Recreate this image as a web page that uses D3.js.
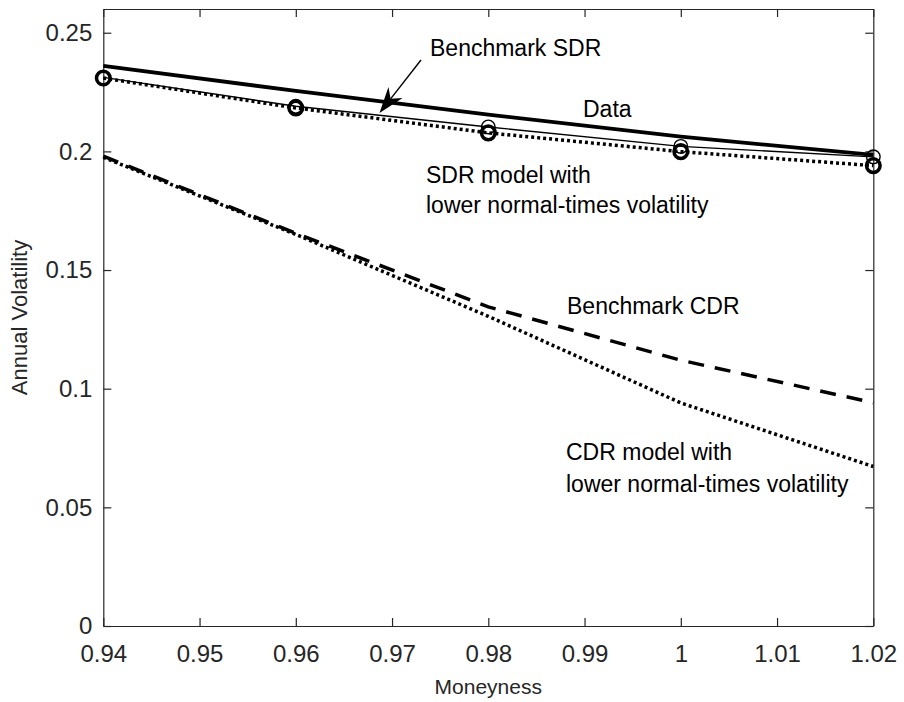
<!DOCTYPE html>
<html>
<head>
<meta charset="utf-8">
<script src="https://cdn.jsdelivr.net/npm/d3@7"></script>
<style>
  html, body { margin: 0; padding: 0; background: #fff; }
  svg { display: block; font-family: "Liberation Sans", Arial, Helvetica, sans-serif; }
</style>
</head>
<body>
<svg id="chart" width="904" height="702"></svg>
<script>
// ---- data ----
const moneyness = [0.94, 0.96, 0.98, 1.00, 1.02];
const dataVol = [0.2312, 0.2190, 0.2103, 0.2021, 0.1977];
const sdrLowVol = [0.2309, 0.2183, 0.2078, 0.1999, 0.1940];
const sdrBenchVol = [0.2360, 0.2255, 0.2155, 0.2062, 0.1985];
const cdrBenchVol = [0.1980, 0.1655, 0.1345, 0.1120, 0.0941];
const cdrLowVol = [0.1975, 0.1650, 0.1305, 0.0940, 0.0672];

const xTicks = [0.94, 0.95, 0.96, 0.97, 0.98, 0.99, 1.00, 1.01, 1.02];
const xTickLabels = ["0.94", "0.95", "0.96", "0.97", "0.98", "0.99", "1", "1.01", "1.02"];
const yTicks = [0, 0.05, 0.10, 0.15, 0.20, 0.25];
const yTickLabels = ["0", "0.05", "0.1", "0.15", "0.2", "0.25"];

const xLabel = "Moneyness";
const yLabel = "Annual Volatility";

(function () {
// ---- layout ----
const svg = d3.select("#chart");
const pLeft = 103.3, pRight = 873.3, pTop = 9, pBottom = 626;
const x = d3.scaleLinear().domain([0.94, 1.02]).range([pLeft, pRight]);
const y = d3.scaleLinear().domain([0, 0.26]).range([pBottom, pTop]);
const axisColor = "#262626";
const tickLen = 8;

const toPts = vals => moneyness.map((m, i) => [m, vals[i]]);
const line = d3.line().x(d => x(d[0])).y(d => y(d[1]));

// axes (box, ticks inward)
const xAxisB = d3.axisBottom(x).tickValues(xTicks).tickSizeInner(-tickLen).tickSizeOuter(0)
  .tickPadding(19).tickFormat((d, i) => xTickLabels[i]);
const xAxisT = d3.axisTop(x).tickValues(xTicks).tickSizeInner(-tickLen).tickSizeOuter(0).tickFormat("");
const yAxisL = d3.axisLeft(y).tickValues(yTicks).tickSizeInner(-tickLen).tickSizeOuter(0)
  .tickPadding(11).tickFormat((d, i) => yTickLabels[i]);
const yAxisR = d3.axisRight(y).tickValues(yTicks).tickSizeInner(-tickLen).tickSizeOuter(0).tickFormat("");

function styleAxis(g) {
  g.selectAll("path.domain").attr("stroke", axisColor).attr("stroke-width", 1.2);
  g.selectAll(".tick line").attr("stroke", axisColor).attr("stroke-width", 1.2);
  g.selectAll(".tick text").attr("fill", axisColor).style("font-size", "24px")
    .style("font-family", "'Liberation Sans', Arial, Helvetica, sans-serif");
}
svg.append("g").attr("transform", `translate(0,${pBottom})`).call(xAxisB).call(styleAxis);
svg.append("g").attr("transform", `translate(0,${pTop})`).call(xAxisT).call(styleAxis);
svg.append("g").attr("transform", `translate(${pLeft},0)`).call(yAxisL).call(styleAxis);
svg.append("g").attr("transform", `translate(${pRight},0)`).call(yAxisR).call(styleAxis);

// axis titles
svg.append("text").attr("x", (pLeft + pRight) / 2).attr("y", 694)
  .attr("text-anchor", "middle").attr("fill", axisColor).style("font-size", "21px").text(xLabel);
svg.append("text").attr("transform", `translate(27,${(pTop + pBottom) / 2}) rotate(-90)`)
  .attr("text-anchor", "middle").attr("fill", axisColor).style("font-size", "22px").text(yLabel);

// ---- series ----
const plot = svg.append("g");
plot.append("path").datum(toPts(cdrBenchVol)).attr("d", line)
  .attr("fill", "none").attr("stroke", "#000").attr("stroke-width", 3.5)
  .attr("stroke-dasharray", "16,11");
plot.append("path").datum(toPts(cdrLowVol)).attr("d", line)
  .attr("fill", "none").attr("stroke", "#000").attr("stroke-width", 3.5)
  .attr("stroke-dasharray", "3,3");
plot.append("path").datum(toPts(sdrLowVol)).attr("d", line)
  .attr("fill", "none").attr("stroke", "#000").attr("stroke-width", 3.5)
  .attr("stroke-dasharray", "3,3");
plot.append("path").datum(toPts(dataVol)).attr("d", line)
  .attr("fill", "none").attr("stroke", "#000").attr("stroke-width", 1.4);
plot.append("path").datum(toPts(sdrBenchVol)).attr("d", line)
  .attr("fill", "none").attr("stroke", "#000").attr("stroke-width", 3.8);

plot.selectAll("circle.data").data(toPts(dataVol)).enter().append("circle")
  .attr("class", "data").attr("cx", d => x(d[0])).attr("cy", d => y(d[1])).attr("r", 6.8)
  .attr("fill", "none").attr("stroke", "#000").attr("stroke-width", 1.4);
plot.selectAll("circle.sdrlow").data(toPts(sdrLowVol)).enter().append("circle")
  .attr("class", "sdrlow").attr("cx", d => x(d[0])).attr("cy", d => y(d[1])).attr("r", 6.8)
  .attr("fill", "none").attr("stroke", "#000").attr("stroke-width", 3.5);

// ---- annotations ----
const annFont = "23px";
const ann = [
  { t: "Benchmark SDR", x: 430, y: 56 },
  { t: "Data", x: 583, y: 117 },
  { t: "SDR model with", x: 426, y: 183 },
  { t: "lower normal-times volatility", x: 426, y: 213 },
  { t: "Benchmark CDR", x: 567, y: 314 },
  { t: "CDR model with", x: 566, y: 460 },
  { t: "lower normal-times volatility", x: 566, y: 492 }
];
svg.selectAll("text.ann").data(ann).enter().append("text").attr("class", "ann")
  .attr("x", d => d.x).attr("y", d => d.y).attr("fill", "#000").style("font-size", annFont)
  .text(d => d.t);

// arrow
const tail = [421, 60], tip = [379.5, 113];
const dx = tip[0] - tail[0], dy = tip[1] - tail[1];
const len = Math.hypot(dx, dy), ux = dx / len, uy = dy / len, px = -uy, py = ux;
const headLen = 26, headW = 9, notch = 18;
const wing1 = [tip[0] - ux * headLen + px * headW, tip[1] - uy * headLen + py * headW];
const wing2 = [tip[0] - ux * headLen - px * headW, tip[1] - uy * headLen - py * headW];
const notchPt = [tip[0] - ux * notch, tip[1] - uy * notch];
svg.append("line").attr("x1", tail[0]).attr("y1", tail[1]).attr("x2", notchPt[0]).attr("y2", notchPt[1])
  .attr("stroke", "#000").attr("stroke-width", 1.4);
svg.append("path").attr("d", `M${tip}L${wing1}L${notchPt}L${wing2}Z`).attr("fill", "#000");
})();
</script>
</body>
</html>
